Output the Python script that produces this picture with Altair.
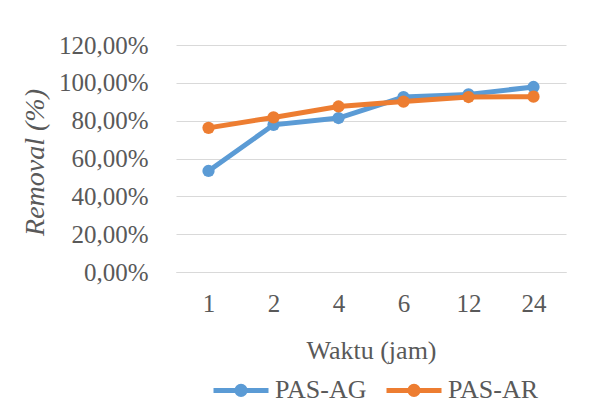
import altair as alt
import pandas as pd

waktu = ["1", "2", "4", "6", "12", "24"]
pas_ag = [0.534, 0.778, 0.814, 0.925, 0.939, 0.978]
pas_ar = [0.762, 0.817, 0.875, 0.901, 0.925, 0.927]
series_names = ["PAS-AG", "PAS-AR"]
colors = ["#5B9BD5", "#ED7D31"]
y_ticks = [0, 0.2, 0.4, 0.6, 0.8, 1.0, 1.2]

rows = []
for name, vals in zip(series_names, [pas_ag, pas_ar]):
    for w, v in zip(waktu, vals):
        rows.append({"Waktu": w, "Removal": v, "Seri": name})
df = pd.DataFrame(rows)

FONT = "'Liberation Serif', 'Times New Roman', 'DejaVu Serif', serif"
TXT = "#595959"
legend_path = ("M-1,0H1"
               "M0.15,0A0.15,0.15,0,1,1,-0.15,0A0.15,0.15,0,1,1,0.15,0"
               "M0.06,0A0.06,0.06,0,1,1,-0.06,0A0.06,0.06,0,1,1,0.06,0")

x_enc = alt.X(
    "Waktu:N", sort=waktu,
    scale=alt.Scale(type="point", padding=0.5),
    axis=alt.Axis(
        title="Waktu (jam)", labelAngle=0, grid=False, ticks=False,
        domain=True, domainColor="#D9D9D9", domainWidth=1,
        labelFont=FONT, labelFontSize=25, labelColor=TXT, labelPadding=19,
        titleFont=FONT, titleFontSize=26, titleColor=TXT, titleFontWeight="normal",
        titleY=86, titleBaseline="alphabetic",
    ),
)
y_enc = alt.Y(
    "Removal:Q",
    scale=alt.Scale(domain=[0, 1.2], nice=False),
    axis=alt.Axis(
        values=y_ticks, grid=True, gridColor="#D9D9D9", gridWidth=1,
        domain=False, ticks=False,
        labelExpr="replace(format(datum.value, '.2%'), '.', ',')",
        labelFont=FONT, labelFontSize=25, labelColor=TXT, labelPadding=28,
        title="Removal (%)", titleFont=FONT, titleFontSize=28, titleColor=TXT,
        titleFontStyle="italic", titleFontWeight="normal",
        titleAngle=270, titleX=-133, titleY=117, titleBaseline="alphabetic",
        titleAlign="center",
    ),
)
color_enc = alt.Color(
    "Seri:N",
    scale=alt.Scale(domain=series_names, range=colors),
    legend=alt.Legend(
        title=None, orient="none", direction="horizontal",
        legendX=35, legendY=315,
        symbolType=legend_path, symbolSize=3025, symbolStrokeWidth=5,
        labelFont=FONT, labelFontSize=26, labelColor=TXT,
        labelOffset=4, columnPadding=9,
    ),
)

layers = []
for name in series_names:
    layers.append(
        alt.Chart(df)
        .transform_filter(alt.datum.Seri == name)
        .mark_line(strokeWidth=5,
                   point=alt.OverlayMarkDef(filled=True, size=150, opacity=1))
        .encode(x=x_enc, y=y_enc, color=color_enc)
    )

chart = (
    alt.layer(*layers)
    .properties(
        width=390, height=227,
        autosize=alt.AutoSizeParams(type="none"),
        padding={"left": 168, "top": 37, "right": 23, "bottom": 132},
        background="white",
    )
    .configure_view(stroke=None)
)

chart.save("out.html", embed_options={"renderer": "svg", "actions": False})
